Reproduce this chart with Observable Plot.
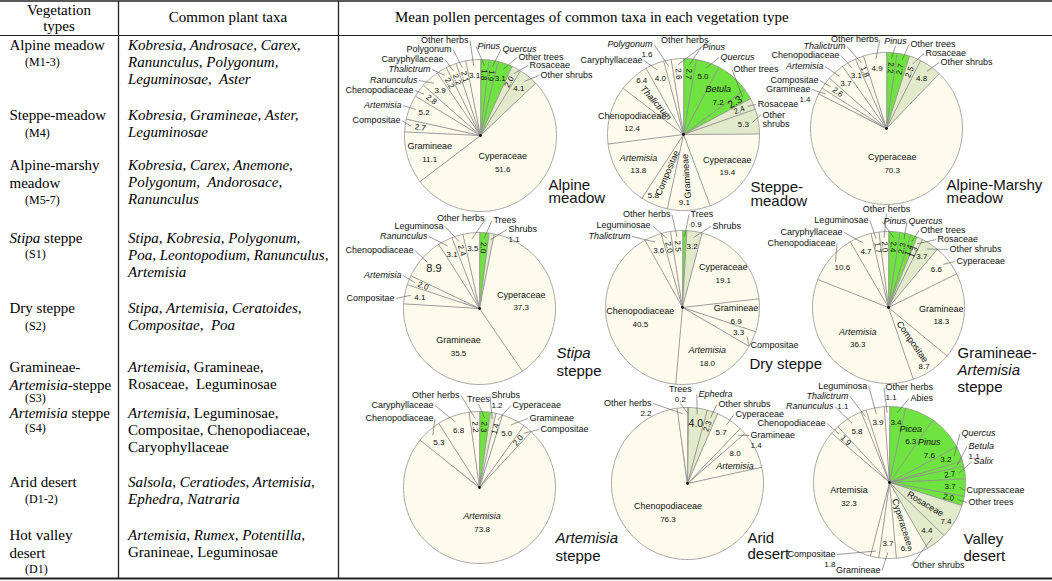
<!DOCTYPE html>
<html>
<head>
<meta charset="utf-8">
<script src="https://cdn.jsdelivr.net/npm/d3@7"></script>
<script src="https://cdn.jsdelivr.net/npm/@observablehq/plot@0.6"></script>
<style>
  html, body { margin: 0; padding: 0; background: #fff; }
  #wrap { position: relative; width: 1052px; height: 581px; overflow: hidden; background: #fff; }
  #wrap > svg { position: absolute; left: 0; top: 0; }
</style>
</head>
<body>
<div id="wrap"></div>
<script>
// ---------------- DATA ----------------
const vegetationTypes = ["Alpine meadow", "Steppe-meadow", "Alpine-Marshy meadow", "Stipa steppe", "Dry steppe",
  "Gramineae-Artemisia steppe", "Artemisia steppe", "Arid desert", "Valley desert"];
const vegetationCodes = ["(M1-3)", "(M4)", "(M5-7)", "(S1)", "(S2)", "(S3)", "(S4)", "(D1-2)", "(D1)"];

const alpineMeadowTaxa = ["Pinus","Quercus","Other trees","Rosaceae","Other shrubs","Cyperaceae","Gramineae","Compositae","Artemisia","Chenopodiaceae","Ranunculus","Thalictrum","Caryphyllaceae","Polygonum","Other herbs"];
const alpineMeadowValues = [1.8,1.9,3.1,2.0,4.1,51.6,11.1,2.7,5.2,2.8,3.9,2.2,2.2,2.1,3.1];
const alpineMeadowGroups = [..."TTTSSHHHHHHHHHH"];
const alpineMeadowItalic = ["Pinus","Quercus","Artemisia","Ranunculus","Thalictrum"];

const steppeMeadowTaxa = ["Pinus","Quercus","Betula","Other trees","Rosaceae","Other shrubs","Cyperaceae","Gramineae","Compositae","Artemisia","Chenopodiaceae","Thalictrum","Caryphyllaceae","Polygonum","Other herbs"];
const steppeMeadowValues = [2.7,5.0,7.2,2.3,2.4,5.3,19.4,9.1,5.8,13.8,12.4,6.4,4.0,1.6,2.6];
const steppeMeadowGroups = [..."TTTTSSHHHHHHHHH"];
const steppeMeadowItalic = ["Pinus","Quercus","Betula","Artemisia","Thalictrum","Polygonum"];

const alpineMarshyTaxa = ["Pinus","Other trees","Rosaceae","Other shrubs","Cyperaceae","Gramineae","Compositae","Artemisia","Chenopodiaceae","Thalictrum","Other herbs"];
const alpineMarshyValues = [2.2,2.7,2.5,4.8,70.3,1.4,2.6,3.7,3.1,1.8,4.9];
const alpineMarshyGroups = [..."TTSSHHHHHHH"];
const alpineMarshyItalic = ["Pinus","Artemisia","Thalictrum"];

const stipaSteppeTaxa = ["Trees","Shrubs","Cyperaceae","Gramineae","Compositae","Artemisia","Chenopodiaceae","Ranunculus","Leguminosa","Other herbs"];
const stipaSteppeValues = [2.0,1.1,37.3,35.5,4.1,2.0,8.9,3.1,2.4,3.5];
const stipaSteppeGroups = [..."TSHHHHHHHH"];
const stipaSteppeItalic = ["Artemisia","Ranunculus"];

const drySteppeTaxa = ["Trees","Shrubs","Cyperaceae","Gramineae","Compositae","Artemisia","Chenopodiaceae","Thalictrum","Leguminosae","Other herbs"];
const drySteppeValues = [0.9,3.2,19.1,6.9,3.3,18.0,40.5,3.6,2.0,2.5];
const drySteppeGroups = [..."TSHHHHHHHH"];
const drySteppeItalic = ["Artemisia","Thalictrum"];

const gramArtSteppeTaxa = ["Pinus","Quercus","Other trees","Rosaceae","Other shrubs","Cyperaceae","Gramineae","Compositae","Artemisia","Chenopodiaceae","Caryphyllaceae","Leguminosae","Other herbs"];
const gramArtSteppeValues = [2.4,2.3,1.4,1.3,3.7,6.6,18.3,8.7,36.3,10.6,4.7,1.7,2.0];
const gramArtSteppeGroups = [..."TTTSSHHHHHHHH"];
const gramArtSteppeItalic = ["Pinus","Quercus","Artemisia"];

const artemisiaSteppeTaxa = ["Trees","Shrubs","Cyperaceae","Gramineae","Compositae","Artemisia","Chenopodiaceae","Caryphyllaceae","Other herbs"];
const artemisiaSteppeValues = [2.3,1.2,1.4,5.0,2.0,73.8,5.3,6.8,2.2];
const artemisiaSteppeGroups = [..."TSHHHHHHH"];
const artemisiaSteppeItalic = ["Artemisia"];

const aridDesertTaxa = ["Trees","Ephedra","Other shrubs","Cyperaceae","Gramineae","Artemisia","Chenopodiaceae","Other herbs"];
const aridDesertValues = [0.2,4.0,2.3,5.7,1.4,8.0,76.3,2.2];
const aridDesertGroups = [..."TSSHHHHH"];
const aridDesertItalic = ["Ephedra","Artemisia"];

const valleyDesertTaxa = ["Abies","Picea","Pinus","Quercus","Betula","Salix","Cupressaceae","Other trees","Rosaceae","Other shrubs","Cyperaceae","Gramineae","Compositae","Artemisia","Chenopodiaceae","Ranunculus","Thalictrum","Leguminosa","Other herbs"];
const valleyDesertValues = [3.4,6.3,7.6,3.2,1.1,2.7,3.7,2.0,7.4,4.4,6.9,3.7,1.8,32.3,1.9,5.8,1.1,3.9,1.1];
const valleyDesertGroups = [..."TTTTTTTTSSHHHHHHHHH"];
const valleyDesertItalic = ["Picea","Pinus","Quercus","Betula","Salix","Ranunculus","Thalictrum"];

// pie titles (lines, italic flag)
const pieTitleLines = [
  [["Alpine",0],["meadow",0]],
  [["Steppe-",0],["meadow",0]],
  [["Alpine-Marshy",0],["meadow",0]],
  [["Stipa",1],["steppe",0]],
  [["Dry steppe",0]],
  [["Gramineae-",0],["Artemisia",1],["steppe",0]],
  [["Artemisia",1],["steppe",0]],
  [["Arid",0],["desert",0]],
  [["Valley",0],["desert",0]]
];

// table text
const vegetationTypeLines = [
  [[["Alpine meadow",0]]],
  [[["Steppe-meadow",0]]],
  [[["Alpine-marshy",0]],[["meadow",0]]],
  [[["Stipa",1],[" steppe",0]]],
  [[["Dry steppe",0]]],
  [[["Gramineae-",0]],[["Artemisia",1],["-steppe",0]]],
  [[["Artemisia",1],[" steppe",0]]],
  [[["Arid desert",0]]],
  [[["Hot valley",0]],[["desert",0]]]
];
const commonTaxaLines = [
  [[["Kobresia, Androsace, Carex,",1]],[["Ranunculus, Polygonum,",1]],[["Leguminosae,  Aster",1]]],
  [[["Kobresia, Gramineae, Aster,",1]],[["Leguminosae",1]]],
  [[["Kobresia, Carex, Anemone,",1]],[["Polygonum,  Andorosace,",1]],[["Ranunculus",1]]],
  [[["Stipa, Kobresia, Polygonum,",1]],[["Poa, Leontopodium, Ranunculus,",1]],[["Artemisia",1]]],
  [[["Stipa, Artemisia, Ceratoides,",1]],[["Compositae,  Poa",1]]],
  [[["Artemisia,",1],[" Gramineae,",0]],[["Rosaceae,  Leguminosae",0]]],
  [[["Artemisia,",1],[" Leguminosae,",0]],[["Compositae, Chenopodiaceae,",0]],[["Caryophyllaceae",0]]],
  [[["Salsola, Ceratiodes, Artemisia,",1]],[["Ephedra, Natraria",1]]],
  [[["Artemisia, Rumex, Potentilla,",1]],[["Granineae, Leguminosae",0]]]
];
const headerVegetation = ["Vegetation", "types"];
const headerTaxa = "Common plant taxa";
const headerPollen = "Mean pollen percentages of common taxa in each vegetation type";

// ---------------- LAYOUT ----------------
const W = 1052, H = 581;
const pieData = [
  {taxa: alpineMeadowTaxa, values: alpineMeadowValues, groups: alpineMeadowGroups, italic: alpineMeadowItalic},
  {taxa: steppeMeadowTaxa, values: steppeMeadowValues, groups: steppeMeadowGroups, italic: steppeMeadowItalic},
  {taxa: alpineMarshyTaxa, values: alpineMarshyValues, groups: alpineMarshyGroups, italic: alpineMarshyItalic},
  {taxa: stipaSteppeTaxa, values: stipaSteppeValues, groups: stipaSteppeGroups, italic: stipaSteppeItalic},
  {taxa: drySteppeTaxa, values: drySteppeValues, groups: drySteppeGroups, italic: drySteppeItalic},
  {taxa: gramArtSteppeTaxa, values: gramArtSteppeValues, groups: gramArtSteppeGroups, italic: gramArtSteppeItalic},
  {taxa: artemisiaSteppeTaxa, values: artemisiaSteppeValues, groups: artemisiaSteppeGroups, italic: artemisiaSteppeItalic},
  {taxa: aridDesertTaxa, values: aridDesertValues, groups: aridDesertGroups, italic: aridDesertItalic},
  {taxa: valleyDesertTaxa, values: valleyDesertValues, groups: valleyDesertGroups, italic: valleyDesertItalic}
];
// label modes: i = inside, r = rotated inside, o = name outside/value inside, v = name+value outside
const pieLayout = [
  {cx: 480, cy: 135, r: 76, modes: "oooooiioooooooo", title: [548, 189, 13]},
  {cx: 683, cy: 134, r: 76, modes: "ooioooirriirovo", title: [750, 191, 14]},
  {cx: 886, cy: 128, r: 76, modes: "ooooivooooo",     title: [946, 189, 13]},
  {cx: 479, cy: 308, r: 76, modes: "oviioooooo",      title: [556, 357, 18]},
  {cx: 682, cy: 307, r: 77, modes: "voiioiiooo",      title: [749, 368, 0]},
  {cx: 888, cy: 307, r: 76, modes: "ooooooirioooo",   title: [957, 357, 17]},
  {cx: 479, cy: 487, r: 76, modes: "ovoooiooo",       title: [555, 542, 18]},
  {cx: 687, cy: 483, r: 76, modes: "voooviiv",        title: [747, 542, 16]},
  {cx: 889, cy: 482, r: 76, modes: "oiiovooororovioovov", title: [963, 543, 17]}
];
// outside-label placement: angle (deg, clockwise from top) and distance from pie centre
const labelOverrides = {
  "0:Other herbs": {a: 352.8, R: 95.8}, "0:Polygonum": {a: 341.4, R: 90.8}, "0:Caryphyllaceae": {a: 334, R: 84.5},
  "0:Thalictrum": {a: 322.9, R: 82.8}, "0:Ranunculus": {a: 311.1, R: 83.6}, "0:Chenopodiaceae": {a: 303.9, R: 80.7},
  "0:Artemisia": {a: 290.8, R: 84.5}, "0:Compositae": {a: 280.6, R: 81.4}, "0:Pinus": {a: 358.1, R: 89, side: "right"},
  "0:Quercus": {a: 14.3, R: 88.8}, "0:Other trees": {a: 26, R: 86.8}, "0:Rosaceae": {a: 35, R: 85.4}, "0:Other shrubs": {a: 45, R: 84.9},

  "1:Other herbs": {a: 14.9, R: 97.3, side: "left"}, "1:Polygonum": {a: 341, R: 95.2}, "1:Caryphyllaceae": {a: 331, R: 84.6},
  "1:Pinus": {a: 12.3, R: 89}, "1:Quercus": {a: 25.7, R: 85.4}, "1:Other trees": {a: 37.6, R: 82, vs: 10.5},
  "1:Rosaceae": {a: 68, R: 80}, "1:Other shrubs": {a: 76, R: 81.5, lines: ["Other", "shrubs"]},

  "2:Other herbs": {a: 354.9, R: 89.4}, "2:Thalictrum": {a: 333.4, R: 91.7}, "2:Chenopodiaceae": {a: 327.2, R: 86.8},
  "2:Artemisia": {a: 314.5, R: 88.4}, "2:Compositae": {a: 305.2, R: 83.2}, "2:Gramineae": {a: 297.2, R: 85.4},
  "2:Pinus": {a: 5.9, R: 87.5, side: "mid"}, "2:Other trees": {a: 16, R: 87.4}, "2:Rosaceae": {a: 27.5, R: 84.5},
  "2:Other shrubs": {a: 39.3, R: 85.3},

  "3:Other herbs": {a: 3.2, R: 90.1, side: "left"}, "3:Trees": {a: 9, R: 89.1}, "3:Shrubs": {a: 20.2, R: 84.2},
  "3:Leguminosa": {a: 336.3, R: 89.6}, "3:Ranunculus": {a: 324.2, R: 88.8}, "3:Chenopodiaceae": {a: 311.3, R: 87.9, vs: 11},
  "3:Artemisia": {a: 293, R: 84.7}, "3:Compositae": {a: 276.7, R: 85.6},

  "4:Trees": {a: 4.9, R: 93.3}, "4:Shrubs": {a: 20.3, R: 86.4}, "4:Other herbs": {a: 352.6, R: 93.8},
  "4:Leguminosae": {a: 338.7, R: 88}, "4:Thalictrum": {a: 323.8, R: 88}, "4:Compositae": {a: 119.2, R: 77.9},

  "5:Other herbs": {a: 358.8, R: 98, side: "mid"}, "5:Leguminosae": {a: 347, R: 89.3}, "5:Caryphyllaceae": {a: 328.5, R: 88},
  "5:Chenopodiaceae": {a: 320.4, R: 83.1}, "5:Pinus": {a: 356.7, R: 86.1, side: "right"}, "5:Quercus": {a: 13.1, R: 88.3},
  "5:Other trees": {a: 22.6, R: 83.4}, "5:Rosaceae": {a: 35.8, R: 83.8}, "5:Other shrubs": {a: 46.4, R: 84.2},
  "5:Cyperaceae": {a: 55.9, R: 82.1},

  "6:Other herbs": {a: 347.7, R: 94.1}, "6:Trees": {a: 359.3, R: 88, side: "mid"}, "6:Shrubs": {a: 7.4, R: 92.8},
  "6:Cyperaceae": {a: 21.9, R: 88.4}, "6:Gramineae": {a: 35.9, R: 85.2}, "6:Compositae": {a: 46.4, R: 84.2},
  "6:Caryphyllaceae": {a: 330.7, R: 94}, "6:Chenopodiaceae": {a: 326.3, R: 82.9},

  "7:Trees": {a: 355.7, R: 94.3, side: "mid"}, "7:Other herbs": {a: 335.8, R: 87.7}, "7:Ephedra": {a: 7, R: 89.7, vs: 10.5},
  "7:Other shrubs": {a: 21.4, R: 84.9}, "7:Cyperaceae": {a: 34.8, R: 84}, "7:Gramineae": {a: 52.7, R: 79.2},
  "7:Artemisia": {vf: true},

  "8:Abies": {a: 14, R: 86.6}, "8:Quercus": {a: 55.8, R: 87.1}, "8:Betula": {a: 65.5, R: 86.8}, "8:Salix": {a: 76, R: 86.6},
  "8:Cupressaceae": {a: 95.9, R: 77.4}, "8:Other trees": {a: 104.2, R: 81.5}, "8:Other shrubs": {a: 164.5, R: 86.1},
  "8:Gramineae": {a: 185.8, R: 88.5, side: "left"}, "8:Compositae": {a: 216.9, R: 90}, "8:Chenopodiaceae": {a: 312.7, R: 87},
  "8:Ranunculus": {a: 323.6, R: 94.4}, "8:Thalictrum": {a: 334.5, R: 95.3}, "8:Leguminosa": {a: 347, R: 99},
  "8:Other herbs": {a: 357.6, R: 95.1, side: "right"}
};
const placeOrder = [1, 2, 0, 3, 4, 5, 6, 7, 8];
const groupColors = {T: "#6fe33f", S: "#e3eacb", H: "#fdfbec"};
const fmt = d3.format(".1f");
const LH = 9.5, R_PAD = 8;

const ctx = document.createElement("canvas").getContext("2d");
function tw(text, size, italic) {
  ctx.font = `${italic ? "italic " : ""}${size}px "Liberation Sans", Arial`;
  return ctx.measureText(text).width;
}
function radialRot(th) {
  let deg = Math.atan2(Math.cos(th), -Math.sin(th)) * 180 / Math.PI;
  if (deg > 100) deg -= 180;
  if (deg < -100) deg += 180;
  return deg;
}
const pt = (L, rad, th) => ({x: L.cx + rad * Math.sin(th), y: L.cy - rad * Math.cos(th)});

// slices
const slices = [];
pieData.forEach((P, k) => {
  const L = pieLayout[k];
  const arcs = d3.pie().sort(null).value(d => d)(P.values);
  arcs.forEach((a, i) => slices.push({
    k, i, L, name: P.taxa[i], value: P.values[i], group: P.groups[i],
    italic: P.italic.includes(P.taxa[i]), a0: a.startAngle, a1: a.endAngle,
    mid: (a.startAngle + a.endAngle) / 2, mode: L.modes[i],
    ov: labelOverrides[`${k}:${P.taxa[i]}`] || {}
  }));
});

const polys = [];
slices.forEach(s => {
  const id = `${s.k}-${s.i}`, color = groupColors[s.group];
  polys.push({x: s.L.cx, y: s.L.cy, id, color});
  const n = Math.max(2, Math.ceil((s.a1 - s.a0) / (Math.PI / 180)));
  for (let j = 0; j <= n; j++) {
    const p = pt(s.L, s.L.r, s.a0 + (s.a1 - s.a0) * j / n);
    polys.push({...p, id, color});
  }
});

const texts = [], leaders = [], placed = [];
pieTitleLines.forEach((lines, k) => {
  const [tx, ty, gap] = pieLayout[k].title;
  lines.forEach(([s, it], j) => {
    const yb = ty + j * gap;
    texts.push({x: tx, y: yb - 4.8, text: s, anchor: "start", italic: !!it, size: 15, rotate: 0});
    placed.push({x0: tx, x1: tx + tw(s, 15, it), y0: yb - 11, y1: yb + 3});
  });
});

// inside labels
slices.forEach(s => {
  const L = s.L, r = L.r, vs = s.ov.vs || 8;
  if (s.mode === "i") {
    const rho = s.value > 50 ? 0.45 * r : s.value > 20 ? 0.56 * r : 0.7 * r;
    const p = pt(L, rho, s.mid);
    const [dn, dv] = s.ov.vf ? [7, -6] : [-5, 8];
    texts.push({x: p.x, y: p.y + dn, text: s.name, anchor: "middle", italic: s.italic, size: 9, rotate: 0});
    texts.push({x: p.x, y: p.y + dv, text: fmt(s.value), anchor: "middle", italic: false, size: vs, rotate: 0});
  } else if (s.mode === "r") {
    const p = pt(L, 0.55 * r, s.mid), q = pt(L, 0.9 * r, s.mid + 0.06);
    texts.push({x: p.x, y: p.y, text: s.name, anchor: "middle", italic: s.italic, size: 9, rotate: radialRot(s.mid)});
    texts.push({x: q.x, y: q.y, text: fmt(s.value), anchor: "middle", italic: false, size: vs, rotate: 0});
  } else if (s.mode === "o") {
    const p = pt(L, 0.8 * r, s.mid);
    texts.push({x: p.x, y: p.y, text: fmt(s.value), anchor: "middle", italic: false, size: vs, rotate: s.value < 3 ? radialRot(s.mid) : 0});
  }
});

// outside labels
const externals = [];
slices.forEach(s => {
  if (s.mode !== "o" && s.mode !== "v") return;
  const L = s.L, ov = s.ov;
  const th = ov.a != null ? ov.a * Math.PI / 180 : s.mid;
  const R = ov.R ?? L.r + R_PAD;
  const lines = (ov.lines || [s.name]).map(t => ({text: t, size: 9, italic: s.italic}));
  if (s.mode === "v") lines.push({text: fmt(s.value), size: 8, italic: false});
  const w = d3.max(lines, l => tw(l.text, l.size, l.italic));
  const sn = Math.sin(th), cs = Math.cos(th);
  const side = ov.side || (Math.abs(sn) < 0.07 ? "mid" : sn < 0 ? "left" : "right");
  const ax = L.cx + R * sn;
  let ay = L.cy - R * cs;
  const fix = ov.a != null;
  if (!fix && side === "mid" && cs > 0) ay -= (lines.length - 1) * LH;
  externals.push({s, L, R, lines, w, side, ax, ay, fix, upper: ay < L.cy});
});
function geom(e, y) {
  const n = e.lines.length;
  const y0 = y - 5, y1 = y + (n - 1) * LH + 4.5;
  let x0, x1;
  if (e.side === "mid") { x0 = e.ax - e.w / 2; x1 = e.ax + e.w / 2; }
  else {
    let hug = 0;
    if (!e.fix) {
      const dy = d3.min(d3.range(n), j => Math.abs(y + j * LH - e.L.cy));
      hug = dy < e.R ? Math.sqrt(e.R * e.R - dy * dy) : 0;
    }
    if (e.side === "left") { x1 = e.fix ? e.ax : Math.min(e.ax, e.L.cx - hug); x0 = x1 - e.w; }
    else { x0 = e.fix ? e.ax : Math.max(e.ax, e.L.cx + hug); x1 = x0 + e.w; }
  }
  return {x0, x1, y0, y1, y};
}
const clamp = (v, a, b) => Math.max(a, Math.min(b, v));
function collides(b, k) {
  if (b.y0 < 37 || b.y1 > 577) return true;
  for (const p of placed) if (b.x0 < p.x1 && b.x1 > p.x0 && b.y0 < p.y1 && b.y1 > p.y0) return true;
  for (let j = 0; j < pieLayout.length; j++) {
    if (j === k) continue;
    const d = pieLayout[j];
    const nx = clamp(d.cx, b.x0, b.x1), ny = clamp(d.cy, b.y0, b.y1);
    if ((nx - d.cx) ** 2 + (ny - d.cy) ** 2 < d.r * d.r) return true;
  }
  return false;
}
externals.filter(e => e.fix).forEach(e => { e.g = geom(e, e.ay); placed.push(e.g); });
placeOrder.forEach(k => {
  const E = externals.filter(e => e.s.k === k && !e.fix);
  const groups = [
    [E.filter(e => e.side === "mid" && e.upper), -1, false],
    [E.filter(e => e.side === "mid" && !e.upper), 1, false],
    [E.filter(e => e.side === "left" && e.upper).sort((a, b) => a.ay - b.ay), 1, true],
    [E.filter(e => e.side === "right" && e.upper).sort((a, b) => a.ay - b.ay), 1, true],
    [E.filter(e => e.side === "left" && !e.upper).sort((a, b) => b.ay - a.ay), -1, true],
    [E.filter(e => e.side === "right" && !e.upper).sort((a, b) => b.ay - a.ay), -1, true]
  ];
  groups.forEach(([G, dir, mono]) => {
    let prev = null;
    G.forEach(e => {
      let y = e.ay;
      if (mono && prev != null) y = dir > 0 ? Math.max(y, prev) : Math.min(y, prev);
      let g = geom(e, y), steps = 0;
      while (collides(g, k) && steps < 160) { y += dir * 0.5; g = geom(e, y); steps++; }
      if (steps >= 160) g = geom(e, e.ay);
      e.g = g; placed.push(g); prev = g.y;
    });
  });
});
externals.forEach(e => {
  const g = e.g;
  const anchor = e.side === "left" ? "end" : e.side === "right" ? "start" : "middle";
  const x = e.side === "left" ? g.x1 : e.side === "right" ? g.x0 : e.ax;
  e.lines.forEach((l, j) => texts.push({x, y: g.y + j * LH, text: l.text, anchor, italic: l.italic, size: l.size, rotate: 0}));
  const p0 = pt(e.L, 0.92 * e.L.r, e.s.mid);
  let p1;
  if (e.side === "left") p1 = {x: g.x1 + 1.5, y: g.y};
  else if (e.side === "right") p1 = {x: g.x0 - 1.5, y: g.y};
  else p1 = {x: e.ax, y: e.upper ? g.y1 : g.y0};
  leaders.push({x1: p0.x, y1: p0.y, x2: p1.x, y2: p1.y});
});

const centers = pieLayout.map(L => ({x: L.cx, y: L.cy}));
const textMarks = [];
for (const anchor of ["start", "middle", "end"]) for (const it of [false, true]) {
  const sub = texts.filter(t => t.anchor === anchor && t.italic === it);
  if (sub.length) textMarks.push(Plot.text(sub, {
    x: "x", y: "y", text: "text", fontSize: "size", rotate: "rotate",
    textAnchor: anchor, fontStyle: it ? "italic" : "normal", lineAnchor: "middle",
    fill: "#111", fontFamily: "'Liberation Sans', Arial, sans-serif"
  }));
}

const chart = Plot.plot({
  width: W, height: H, margin: 0,
  x: {domain: [0, W], range: [0, W], axis: null},
  y: {domain: [0, H], range: [0, H], axis: null},
  color: {type: "identity"},
  style: {background: "transparent", fontFamily: "'Liberation Sans', Arial, sans-serif"},
  marks: [
    Plot.line(polys, {x: "x", y: "y", z: "id", fill: "color", stroke: "#8f8f8f", strokeWidth: 0.8, curve: "linear-closed"}),
    Plot.link(leaders, {x1: "x1", y1: "y1", x2: "x2", y2: "y2", stroke: "#555", strokeWidth: 0.6}),
    Plot.dot(centers, {x: "x", y: "y", r: 1.4, fill: "#000"}),
    ...textMarks
  ]
});
const wrap = document.getElementById("wrap");
wrap.appendChild(chart);

// ---------------- TABLE ----------------
const tsvg = d3.create("svg").attr("width", W).attr("height", H)
  .style("font-family", "'Liberation Serif', 'Times New Roman', serif").style("pointer-events", "none");
const lineColor = "#222";
[[1, 1.6], [35.5, 1], [578.5, 1.8]].forEach(([y, sw]) =>
  tsvg.append("line").attr("x1", 0).attr("x2", W).attr("y1", y).attr("y2", y).attr("stroke", lineColor).attr("stroke-width", sw));
[118.5, 338.5].forEach(x =>
  tsvg.append("line").attr("x1", x).attr("x2", x).attr("y1", 1).attr("y2", 579).attr("stroke", lineColor).attr("stroke-width", 1.3));
function addLine(x, y, parts, size, anchor = "start") {
  const t = tsvg.append("text").attr("x", x).attr("y", y).attr("font-size", size)
    .attr("text-anchor", anchor).attr("fill", "#000").style("white-space", "pre");
  parts.forEach(([s, it]) => t.append("tspan").attr("font-style", it ? "italic" : "normal").text(s));
}
addLine(59, 15, [[headerVegetation[0], 0]], 15, "middle");
addLine(59, 31, [[headerVegetation[1], 0]], 15, "middle");
addLine(228, 22, [[headerTaxa, 0]], 15, "middle");
addLine(395, 22, [[headerPollen, 0]], 15);
const rowBase = [50, 120, 170, 243, 313, 372, 418, 487, 540];
const codeBase = [66, 137, 204, 258, 330, 402, 432, 503, 573];
vegetationTypeLines.forEach((lines, i) => {
  lines.forEach((parts, j) => addLine(9.5, rowBase[i] + j * 17.5, parts, 15));
  addLine(25, codeBase[i], [[vegetationCodes[i], 0]], 12);
});
commonTaxaLines.forEach((lines, i) => {
  lines.forEach((parts, j) => addLine(128, rowBase[i] + j * 17, parts, 15));
});
wrap.appendChild(tsvg.node());
</script>
</body>
</html>
